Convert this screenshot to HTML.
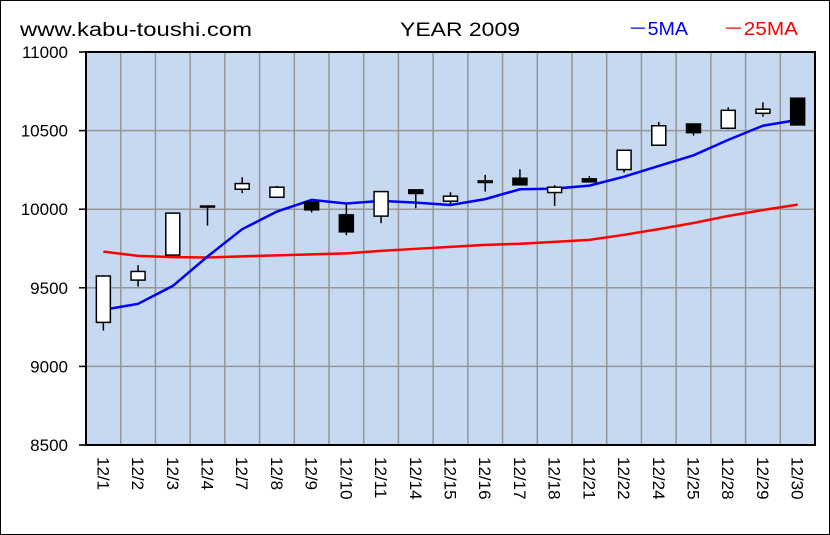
<!DOCTYPE html>
<html><head><meta charset="utf-8"><style>
html,body{margin:0;padding:0;background:#fff}
svg{display:block;font-family:"Liberation Sans",sans-serif}
</style></head><body>
<svg id="chart" width="830" height="535">
<rect x="0.5" y="0.5" width="829" height="534" fill="#fff" stroke="#000"/>
<text x="20" y="36" font-size="19" textLength="232" lengthAdjust="spacingAndGlyphs">www.kabu-toushi.com</text>
<text x="400" y="36" font-size="19" textLength="120" lengthAdjust="spacingAndGlyphs">YEAR 2009</text>
<text x="628" y="35" font-size="18" fill="#0000ff" textLength="60" lengthAdjust="spacingAndGlyphs">－5MA</text>
<text x="723" y="35" font-size="18" fill="#ff0000" textLength="75" lengthAdjust="spacingAndGlyphs">－25MA</text>
<rect x="86" y="52" width="729" height="393" fill="#c6d9f0"/>
<g id="grid"></g><g id="ma"></g><g id="candles"></g><g id="axes"></g>
<rect x="86" y="52" width="729" height="393" fill="none" stroke="#000" stroke-width="2"/>
</svg>
<script>
const categories=["12/1","12/2","12/3","12/4","12/7","12/8","12/9","12/10","12/11","12/14","12/15","12/16","12/17","12/18","12/21","12/22","12/24","12/25","12/28","12/29","12/30"];
const openV=[9280,9549,9708,10020,10127,10076,10045,9964,9956,10123,10051,10170,10197,10106,10193,10252,10407,10542,10515,10610,10706];
const highV=[9580,9644,9980,10025,10203,10148,10048,10032,10115,10125,10108,10218,10254,10153,10210,10378,10555,10545,10648,10680,10710];
const lowV=[9228,9508,9705,9896,10102,10074,9979,9835,9911,10006,10034,10112,10152,10021,10172,10233,10405,10468,10509,10589,10533];
const closeV=[9575,9604,9975,10020,10163,10140,9996,9856,10112,10100,10083,10180,10155,10140,10174,10375,10531,10487,10629,10636,10536];
const ma5=[9360,9398,9512,9699,9873,9985,10059,10036,10053,10042,10027,10064,10127,10131,10150,10207,10275,10343,10441,10531,10568];
const ma25=[9730,9703,9695,9693,9700,9706,9713,9719,9735,9748,9760,9773,9780,9792,9805,9837,9873,9912,9957,9995,10029];
const yTicks=[8500,9000,9500,10000,10500,11000];
const NS="http://www.w3.org/2000/svg";
const L=86,R=815,T=52,B=445,yMin=8500,yMax=11000;
const slot=(R-L)/categories.length;
const xS=i=>L+slot*(i+0.5);
const yS=v=>B-(v-yMin)/(yMax-yMin)*(B-T);
function mk(tag,attrs,parent){const e=document.createElementNS(NS,tag);for(const k in attrs)e.setAttribute(k,attrs[k]);document.getElementById(parent).appendChild(e);return e;}
// grid
for(let i=1;i<categories.length;i++){const x=L+slot*i;
const g=mk('line',{x1:x,x2:x,y1:T,y2:B,stroke:'#969696','stroke-width':1.5},'grid');

}
yTicks.forEach(v=>{const y=yS(v);
const g=mk('line',{x1:L-7,x2:R,y1:y,y2:y,stroke:'#969696','stroke-width':1.5},'grid');


const tk=mk('line',{x1:L-7,x2:L,y1:y,y2:y,stroke:'#000','stroke-width':1.5},'axes');


const t=mk('text',{x:68,y:y+6,'font-size':17,'text-anchor':'end'},'axes');t.textContent=v;

});
categories.forEach((c,i)=>{const x=xS(i);
const t=mk('text',{x:0,y:0,'font-size':17,transform:`translate(${x-6},457) rotate(90)`},'axes');t.textContent=c;

});
// MA lines
function line(arr,col,name){const p=mk('polyline',{points:arr.map((v,i)=>xS(i)+','+yS(v)).join(' '),fill:'none',stroke:col,'stroke-width':2.5},'ma');

}
line(ma25,'#ff0000','ma25-line');line(ma5,'#0000ff','ma5-line');
// candles
categories.forEach((c,i)=>{const x=xS(i);const o=openV[i],cl=closeV[i];
const w=mk('line',{x1:x,x2:x,y1:yS(highV[i]),y2:yS(lowV[i]),stroke:'#000','stroke-width':1.5},'candles');


const top=yS(Math.max(o,cl)),bot=yS(Math.min(o,cl));
const r=mk('rect',{x:x-7,y:top,width:14,height:Math.max(bot-top,1),fill:cl>=o?'#fff':'#000',stroke:'#000','stroke-width':1.5},'candles');

});
</script>
</body></html>
